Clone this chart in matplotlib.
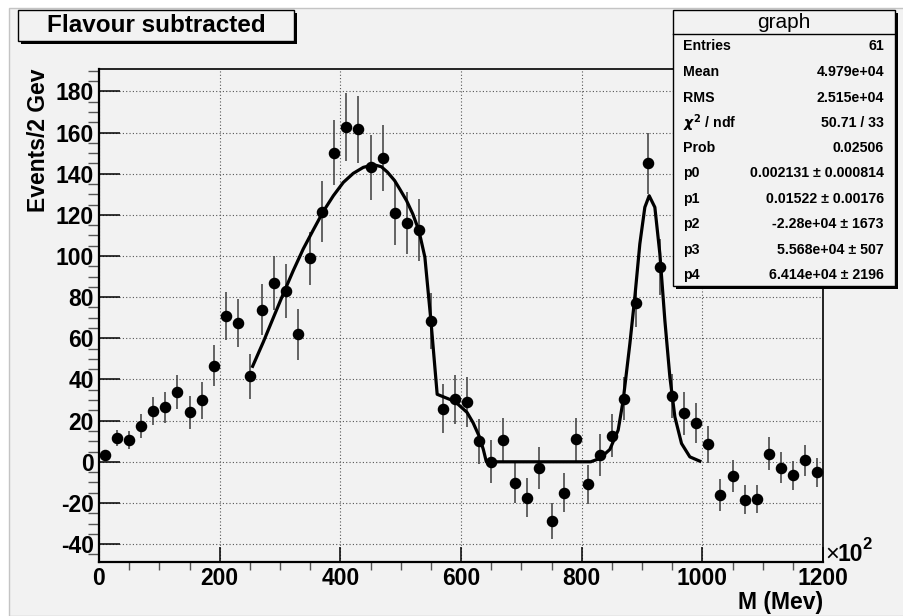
import matplotlib
matplotlib.use("Agg")
import matplotlib.pyplot as plt
from matplotlib.patches import Rectangle
from matplotlib.lines import Line2D
from matplotlib.ticker import MultipleLocator

plt.rcParams['font.family'] = ['Liberation Sans', 'DejaVu Sans']
plt.rcParams['font.weight'] = 'bold'
plt.rcParams['axes.unicode_minus'] = False

# ---- data -------------------------------------------------------------
mass = [10, 30, 50, 70, 90, 110, 130, 150, 170, 190,
        210, 230, 250, 270, 290, 310, 330, 350, 370, 390,
        410, 430, 450, 470, 490, 510, 530, 550, 570, 590,
        610, 630, 650, 670, 690, 710, 730, 750, 770, 790,
        810, 830, 850, 870, 890, 910, 930, 950, 970, 990,
        1010, 1030, 1050, 1070, 1090, 1110, 1130, 1150, 1170, 1190]

events = [3.2, 11.6, 10.5, 17.3, 24.6, 26.4, 34.1, 24.0, 29.8, 46.7,
          70.8, 67.6, 41.6, 73.9, 86.8, 82.9, 61.9, 98.9, 121.6, 150.3,
          162.7, 161.7, 143.1, 147.6, 120.8, 116.1, 112.5, 68.6, 25.9, 30.4,
          29.1, 9.9, 0.0, 10.4, -10.2, -17.5, -2.9, -28.9, -15.0, 11.0,
          -11.0, 3.4, 12.6, 30.7, 77.0, 145.0, 94.6, 32.0, 23.6, 18.9,
          8.5, -16.1, -6.9, -18.4, -18.3, 4.0, -2.9, -6.6, 0.7, -5.2]

errors = [1.8, 3.9, 4.4, 5.7, 6.7, 7.4, 8.3, 8.2, 9.0, 10.1,
          11.6, 11.7, 10.9, 12.5, 13.1, 13.2, 12.5, 12.8, 15.0, 15.8,
          16.4, 16.3, 15.8, 16.1, 15.2, 15.0, 15.0, 13.6, 11.7, 11.9,
          12.0, 10.9, 10.5, 11.1, 9.7, 9.5, 10.3, 8.7, 9.5, 10.5,
          9.3, 10.1, 10.5, 10.5, 11.5, 15.0, 13.5, 10.5, 10.5, 9.9,
          9.1, 7.6, 8.0, 7.0, 6.8, 8.2, 7.6, 7.1, 7.5, 7.1]

# fitted function, sampled
fit_x = [254.6, 272.3, 288.9, 305.5, 322.1, 338.6, 355.2, 371.8, 388.4, 405.0,
         421.5, 438.1, 450.0, 459.0, 468.0, 478.0, 489.9, 499.0, 509.8, 520.0,
         530.2, 540.1, 550.0, 560.5,
         590.0, 610.0, 620.0, 630.0, 637.0, 642.0, 815.0, 830.0, 846.7, 860.5,
         868.8, 879.9, 888.1, 896.4, 904.7, 911.9, 921.3, 929.6, 937.9, 946.2,
         954.5, 965.5, 979.3, 995.9]
fit_y = [46.4, 58.2, 70.0, 81.7, 93.0, 103.5, 112.7, 121.7, 129.3, 135.8,
         140.2, 143.1, 144.0, 144.1, 143.4, 140.8, 136.7, 132.3, 126.9, 120.5,
         112.4, 99.5, 69.0, 32.8,
         29.3, 24.0, 19.0, 12.5, 6.0, 0.0, 0.0, 1.6, 6.0, 15.4,
         29.9, 57.4, 80.0, 105.9, 123.7, 129.3, 123.7, 101.1, 68.7, 41.2,
         21.8, 8.9, 2.4, 0.3]

x_ticks = [0, 200, 400, 600, 800, 1000, 1200]
y_ticks = [-40, -20, 0, 20, 40, 60, 80, 100, 120, 140, 160, 180]

stats_labels = ['Entries', 'Mean', 'RMS', r'$\chi^{2}$ / ndf', 'Prob',
                'p0', 'p1', 'p2', 'p3', 'p4']
stats_values = ['61', '4.979e+04', '2.515e+04', '50.71 / 33', '0.02506',
                '0.002131 \u00b1 0.000814', '0.01522 \u00b1 0.00176',
                '-2.28e+04 \u00b1 1673', '5.568e+04 \u00b1 507',
                '6.414e+04 \u00b1 2196']

# ---- layout helpers (pixel positions on the canvas) ---------------------
W, H = 904, 616
BG = '#f2f2f2'


def fx(px):
    return px / W


def fy(py):
    return 1 - py / H


fig = plt.figure(figsize=(W / 100, H / 100), dpi=100)
fig.patch.set_facecolor('white')

# canvas pad
fig.patches.append(Rectangle((fx(8.5), 0), 1.0, fy(7.5), transform=fig.transFigure,
                             facecolor=BG, edgecolor='#c4c4c4', lw=1.0, zorder=-10))

# ---- frame --------------------------------------------------------------
ax = fig.add_axes([fx(99), fy(562), fx(823) - fx(99), fy(69) - fy(562)])
ax.set_zorder(1)
ax.set_facecolor(BG)
ax.set_xlim(0, 1200)
ax.set_ylim(-48.7, 190.9)

ax.set_xticks(x_ticks)
ax.set_yticks(y_ticks)
ax.xaxis.set_minor_locator(MultipleLocator(50))
ax.yaxis.set_minor_locator(MultipleLocator(5))
ax.tick_params(direction='in', top=False, right=False, width=1.1, color='black',
               labelsize=16.5, pad=3.6)
ax.tick_params(axis='y', which='major', length=14.9)
ax.tick_params(axis='y', which='minor', length=7.7, width=1.0, color='#555555')
ax.tick_params(axis='x', which='major', length=10.8)
ax.tick_params(axis='x', which='minor', length=5.4, width=1.0, color='#555555')
for lab in ax.get_xticklabels() + ax.get_yticklabels():
    lab.set_fontweight('bold')

ax.grid(True, which='major', color='#555555', linestyle=(0, (1, 2)), lw=0.8)
ax.set_axisbelow(True)

for side in ['left', 'bottom']:
    ax.spines[side].set_linewidth(1.6)
for side in ['top', 'right']:
    ax.spines[side].set_linewidth(1.2)

# data points with errors
ax.errorbar(mass, events, yerr=errors, fmt='o', color='black', ms=7.3,
            ecolor='#3c3c3c', elinewidth=1.1, capsize=0, zorder=3)

# fit curve
ax.plot(fit_x, fit_y, color='black', lw=2.3, solid_joinstyle='round', zorder=4)

# ---- axis titles ----------------------------------------------------------
fig.text(fx(38.5), fy(68), 'Events/2 Gev', rotation=90, ha='center', va='top',
         fontsize=16.5, fontweight='bold')
fig.text(fx(823), fy(591), 'M (Mev)', ha='right', va='top',
         fontsize=16.5, fontweight='bold')
fig.text(fx(825), fy(561), '\u00d7', ha='left', va='baseline',
         fontsize=17, fontweight='normal')
fig.text(fx(838), fy(561), '10', ha='left', va='baseline',
         fontsize=16.5, fontweight='bold')
fig.text(fx(862), fy(549), '2', ha='left', va='baseline',
         fontsize=12, fontweight='bold')


# ---- boxes -----------------------------------------------------------------
def shadow_box(x0, y0, x1, y1, sh=3.0):
    fig.patches.append(Rectangle((fx(x0 + sh), fy(y1 + sh)), fx(x1 - x0), fy(y0) - fy(y1),
                                 transform=fig.transFigure, facecolor='black',
                                 edgecolor='none', zorder=5))
    fig.patches.append(Rectangle((fx(x0), fy(y1)), fx(x1 - x0), fy(y0) - fy(y1),
                                 transform=fig.transFigure, facecolor=BG,
                                 edgecolor='black', lw=1.0, zorder=6))


# title box
shadow_box(18, 10, 294, 40.5)
fig.text(fx(156), fy(25.5), 'Flavour subtracted', ha='center', va='center',
         fontsize=17.5, fontweight='bold', zorder=7)

# statistics box
shadow_box(673, 10, 895, 286)
fig.add_artist(Line2D([fx(673), fx(895)], [fy(34.3), fy(34.3)],
                      transform=fig.transFigure, color='black', lw=1.0, zorder=7))
fig.text(fx(784), fy(22), 'graph', ha='center', va='center',
         fontsize=15, fontweight='normal', zorder=7)
row_y = [45.7, 71.7, 97.7, 123.3, 148.3, 173.3, 198.7, 223.7, 250.0, 275.3]
for lab, val, ry in zip(stats_labels, stats_values, row_y):
    fig.text(fx(683), fy(ry), lab, ha='left', va='center', fontsize=10.2,
             fontweight='bold', zorder=7)
    fig.text(fx(884), fy(ry), val, ha='right', va='center', fontsize=10.2,
             fontweight='bold', zorder=7)

fig.savefig('out.png', dpi=100, facecolor=fig.get_facecolor())
